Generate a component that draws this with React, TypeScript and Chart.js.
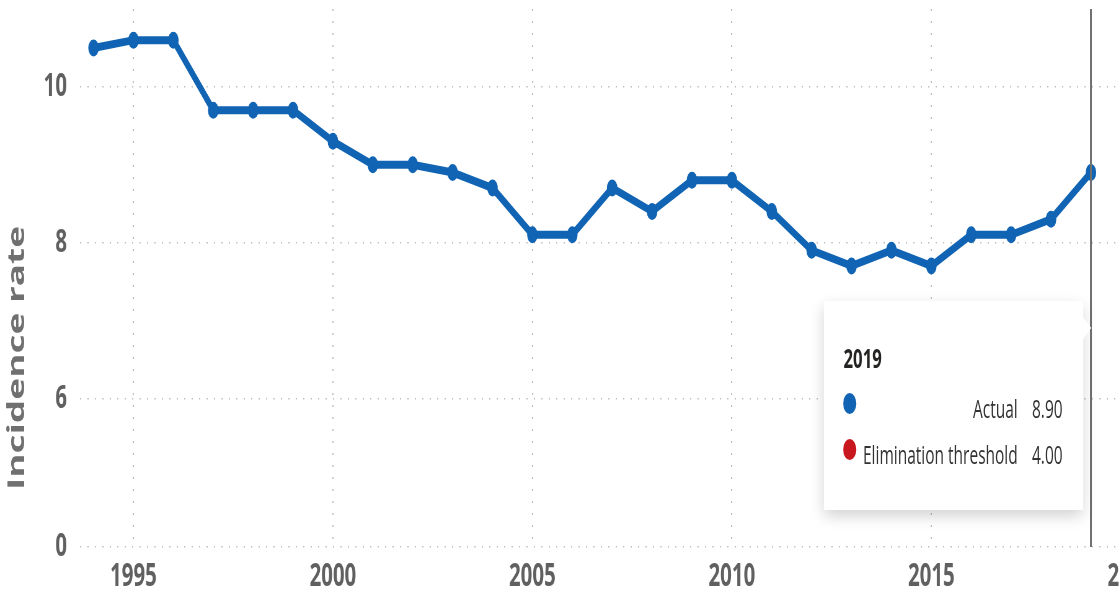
import React, { useEffect, useRef } from "react";
import { Chart, registerables } from "chart.js";

Chart.register(...registerables);

// ---------------- data ----------------
const YEARS = [
  1994, 1995, 1996, 1997, 1998, 1999, 2000, 2001, 2002, 2003, 2004, 2005, 2006,
  2007, 2008, 2009, 2010, 2011, 2012, 2013, 2014, 2015, 2016, 2017, 2018, 2019,
];
const ACTUAL = [
  10.5, 10.6, 10.6, 9.7, 9.7, 9.7, 9.3, 9.0, 9.0, 8.9, 8.7, 8.1, 8.1,
  8.7, 8.4, 8.8, 8.8, 8.4, 7.9, 7.7, 7.9, 7.7, 8.1, 8.1, 8.3, 8.9,
];
const THRESHOLD = [
  4, 4, 4, 4, 4, 4, 4, 4, 4, 4, 4, 4, 4,
  4, 4, 4, 4, 4, 4, 4, 4, 4, 4, 4, 4, 4,
];
const SERIES_LABELS = ["Actual", "Elimination threshold"];
const X_TICKS = [1995, 2000, 2005, 2010, 2015, 2020];
const X_MIN = 1993.66;
const X_MAX = 2020.88;
const Y_MIN = 4.09;
const Y_MAX = 11;
const Y_TICKS = [4.09, 6, 8, 10];
const Y_TICK_LABELS = ["0", "6", "8", "10"];
const Y_TITLE = "Incidence rate";
const HOVER_INDEX = 25;

// ---------------- styling ----------------
const SERIES_COLORS = ["#1064b3", "#c8171f"];
const SQUISH = 0.62;
const NATIVE_W = 1889;
const H = 594;
const FONT = "'Open Sans', 'Segoe UI', 'DejaVu Sans', sans-serif";
const GRID_COLOR = "#bdbdbd";
const TICK_COLOR = "#606060";
const TIP_W = 418;
const TIP_H = 209;
const TIP_TOP = 301;

export default function App() {
  const canvasRef = useRef<HTMLCanvasElement | null>(null);
  const tipRef = useRef<HTMLDivElement | null>(null);

  useEffect(() => {
    const canvas = canvasRef.current;
    if (!canvas) return;

    const crosshair = {
      id: "crosshair",
      afterDatasetsDraw(chart: any) {
        const ctx = chart.ctx;
        const x = chart.scales.x.getPixelForValue(YEARS[HOVER_INDEX]);
        const { top, bottom } = chart.chartArea;
        ctx.save();
        ctx.strokeStyle = "#707070";
        ctx.lineWidth = 3;
        ctx.beginPath();
        ctx.moveTo(x, top);
        ctx.lineTo(x, bottom);
        ctx.stroke();
        ctx.restore();
      },
    };

    const yTitle = {
      id: "yTitle",
      afterDraw(chart: any) {
        const ctx = chart.ctx;
        ctx.save();
        ctx.translate(39, 358);
        ctx.rotate(-Math.PI / 2);
        ctx.font = `700 37px ${FONT}`;
        ctx.fillStyle = "#707070";
        ctx.textAlign = "center";
        ctx.textBaseline = "alphabetic";
        ctx.fillText(Y_TITLE, 0, 0);
        ctx.restore();
      },
    };

    const external = ({ chart, tooltip }: any) => {
      const el = tipRef.current;
      if (!el) return;
      const pts = tooltip.dataPoints;
      if (tooltip.opacity === 0 || !pts || !pts.length) {
        el.style.display = "none";
        return;
      }
      const caretX = chart.scales.x.getPixelForValue(pts[0].parsed.x);
      el.style.display = "block";
      el.style.left = `${caretX - 13 - TIP_W}px`;
      el.style.top = `${TIP_TOP}px`;
      el.innerHTML = "";

      const caret = document.createElement("div");
      Object.assign(caret.style, {
        position: "absolute",
        right: "-13px",
        top: "16px",
        width: "0",
        height: "0",
        borderLeft: "13px solid #ffffff",
        borderTop: "11.5px solid transparent",
        borderBottom: "11.5px solid transparent",
      });
      el.appendChild(caret);

      const title = document.createElement("div");
      title.textContent = String(pts[0].parsed.x);
      Object.assign(title.style, {
        position: "absolute",
        left: "32px",
        top: "43px",
        font: `700 27px/27px ${FONT}`,
        color: "#252423",
        whiteSpace: "nowrap",
      });
      el.appendChild(title);

      pts.forEach((p: any, i: number) => {
        const row = document.createElement("div");
        Object.assign(row.style, {
          position: "absolute",
          left: "0",
          right: "0",
          top: `${92 + i * 46}px`,
          height: "30px",
        });
        const dot = document.createElement("div");
        Object.assign(dot.style, {
          position: "absolute",
          left: "31px",
          top: "0",
          width: "21px",
          height: "21px",
          borderRadius: "50%",
          background: SERIES_COLORS[p.datasetIndex],
        });
        const label = document.createElement("div");
        label.textContent = p.dataset.label;
        Object.assign(label.style, {
          position: "absolute",
          right: "105px",
          top: "3px",
          font: `400 25px/25px ${FONT}`,
          color: "#333333",
          whiteSpace: "nowrap",
        });
        const value = document.createElement("div");
        value.textContent = Number(p.parsed.y).toFixed(2);
        Object.assign(value.style, {
          position: "absolute",
          left: "336px",
          top: "3px",
          font: `400 25px/25px ${FONT}`,
          color: "#333333",
          whiteSpace: "nowrap",
        });
        row.appendChild(dot);
        row.appendChild(label);
        row.appendChild(value);
        el.appendChild(row);
      });
    };

    const chart = new Chart(canvas, {
      type: "line",
      data: {
        datasets: [
          {
            label: SERIES_LABELS[0],
            data: YEARS.map((x, i) => ({ x, y: ACTUAL[i] })),
            borderColor: SERIES_COLORS[0],
            backgroundColor: SERIES_COLORS[0],
            pointBackgroundColor: SERIES_COLORS[0],
            borderWidth: 8,
            pointRadius: 8.5,
            pointHoverRadius: 8.5,
            pointBorderWidth: 0,
            tension: 0,
          },
          {
            label: SERIES_LABELS[1],
            data: YEARS.map((x, i) => ({ x, y: THRESHOLD[i] })),
            borderColor: SERIES_COLORS[1],
            backgroundColor: SERIES_COLORS[1],
            borderWidth: 3,
            pointRadius: 0,
            pointHoverRadius: 0,
            tension: 0,
          },
        ],
      },
      options: {
        animation: false,
        responsive: false,
        devicePixelRatio: 1,
        events: [],
        layout: { padding: { top: 9, left: 0, right: 0, bottom: 0 } },
        scales: {
          x: {
            type: "linear",
            min: X_MIN,
            max: X_MAX,
            afterBuildTicks: (s: any) => {
              s.ticks = X_TICKS.map((v) => ({ value: v }));
            },
            afterFit: (s: any) => {
              s.height = 47;
              s.paddingLeft = 0;
              s.paddingRight = 0;
            },
            ticks: {
              callback: (v: any) => String(v),
              color: TICK_COLOR,
              font: { family: FONT, size: 33, weight: "bold" },
              padding: 10,
              maxRotation: 0,
              autoSkip: false,
            },
            grid: { color: GRID_COLOR, lineWidth: 2, drawTicks: false },
            border: { display: false, dash: [2, 10] },
          },
          y: {
            type: "linear",
            min: Y_MIN,
            max: Y_MAX,
            afterBuildTicks: (s: any) => {
              s.ticks = Y_TICKS.map((v) => ({ value: v }));
            },
            afterFit: (s: any) => {
              s.width = 129;
              s.paddingTop = 0;
              s.paddingBottom = 0;
            },
            ticks: {
              callback: (_v: any, i: number) => Y_TICK_LABELS[i],
              color: TICK_COLOR,
              font: { family: FONT, size: 33, weight: "bold" },
              padding: 21,
              autoSkip: false,
            },
            grid: { color: GRID_COLOR, lineWidth: 1.5, drawTicks: false },
            border: { display: false, dash: [2, 10] },
          },
        },
        plugins: {
          legend: { display: false },
          title: { display: false },
          tooltip: { enabled: false, external },
        },
      },
      plugins: [crosshair, yTitle],
    } as any);

    const hx = chart.scales.x.getPixelForValue(YEARS[HOVER_INDEX]);
    const hy = chart.scales.y.getPixelForValue(ACTUAL[HOVER_INDEX]);
    chart.tooltip?.setActiveElements(
      [
        { datasetIndex: 0, index: HOVER_INDEX },
        { datasetIndex: 1, index: HOVER_INDEX },
      ],
      { x: hx, y: hy }
    );

    return () => {
      chart.destroy();
    };
  }, []);

  return (
    <div
      style={{
        position: "absolute",
        left: 0,
        top: 0,
        width: 1119,
        height: H,
        overflow: "hidden",
        background: "#ffffff",
      }}
    >
      <div
        style={{
          position: "relative",
          width: NATIVE_W,
          height: H,
          transform: `scaleX(${SQUISH})`,
          transformOrigin: "0 0",
        }}
      >
        <canvas ref={canvasRef} width={NATIVE_W} height={H} style={{ display: "block" }} />
        <div
          ref={tipRef}
          style={{
            position: "absolute",
            display: "none",
            width: TIP_W,
            height: TIP_H,
            background: "#ffffff",
            boxShadow: "0 6px 18px rgba(0,0,0,0.18)",
          }}
        />
      </div>
    </div>
  );
}
